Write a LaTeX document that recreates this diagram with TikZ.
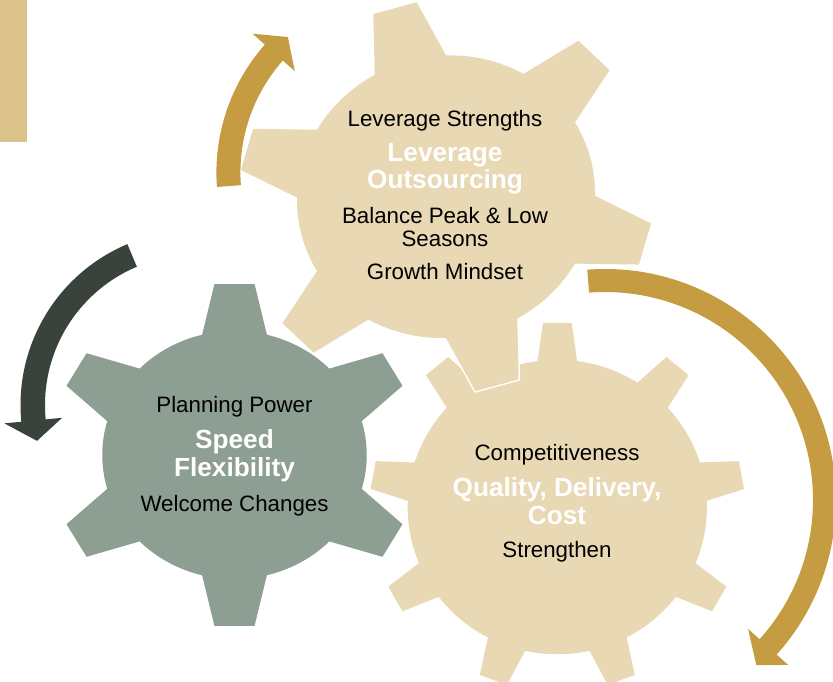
\documentclass[tikz,border=0pt]{standalone}
\usepackage{fontspec}
\setmainfont{Liberation Sans}
\usetikzlibrary{calc}
\definecolor{geartan}{HTML}{E8D8B4}
\definecolor{gearsage}{HTML}{8D9E92}
\definecolor{arrowgold}{HTML}{C59C42}
\definecolor{arrowslate}{HTML}{39433C}
\definecolor{tabtan}{HTML}{DBC28B}
\tikzset{
  gearnote/.style={
    anchor=base,
    inner sep=0pt,
    text=black,
    font=\fontsize{22.3}{24}\selectfont
  },
  gearkey/.style={
    anchor=base,
    inner sep=0pt,
    text=white,
    font=\bfseries\fontsize{26.2}{28}\selectfont
  },
  gearhalo/.style={fill=white, draw=white, line width=3pt}
}
% #1 path options, #2 teeth, #3 first tooth angle, #4 root radius,
% #5 half width of a tooth at its tip, #6 half width at radius 0.6
\newcommand{\gearshape}[6]{%
  \path[#1] (0,0) circle[radius=#4];
  \foreach \k in {1,...,#2}{
    \pgfmathsetmacro{\toothang}{#3+360*(\k-1)/#2}
    \path[#1] ({\toothang-atan(#5)}:{sqrt(1+#5*#5)})
      -- ({\toothang+atan(#5)}:{sqrt(1+#5*#5)})
      -- ({\toothang+atan(#6/0.6)}:{sqrt(0.36+#6*#6)})
      -- ({\toothang-atan(#6/0.6)}:{sqrt(0.36+#6*#6)}) -- cycle;
  }
}

\begin{document}
\begin{tikzpicture}[x=1pt, y=-1pt]
  \useasboundingbox (0,0) rectangle (833,682);
  \fill[tabtan] (0,0) rectangle (27,142);

  \coordinate (topc) at (446,196.7);
  \coordinate (leftc) at (234.5,455);
  \coordinate (rightc) at (557.3,507);

  % gear on the right, under the other two
  \begin{scope}[shift={(rightc)}, x={(187pt,0pt)}, y={(0pt,-184pt)}]
    \gearshape{gearhalo}{9}{270}{0.80}{0.077}{0.133}
    \gearshape{fill=geartan}{9}{270}{0.80}{0.077}{0.133}
  \end{scope}

  % gear on the left
  \begin{scope}[shift={(leftc)}, x={(182.4pt,0pt)}, y={(0pt,-171pt)}]
    \gearshape{gearhalo}{6}{30}{0.725}{0.11}{0.201}
    \gearshape{fill=gearsage}{6}{30}{0.725}{0.11}{0.201}
  \end{scope}

  % gear on top
  \begin{scope}[shift={(topc)}, x={(199pt,-47.3pt)}, y={(-56pt,-190.4pt)}]
    \gearshape{gearhalo}{6}{0}{0.72}{0.108}{0.201}
    \gearshape{fill=geartan}{6}{0}{0.72}{0.108}{0.201}
  \end{scope}

  % turning arrows
  \coordinate (swingA) at (409.4,172.5);
  \coordinate (swingB) at (605,500);
  \coordinate (swingC) at (195,405);
  \fill[arrowgold] ($(swingA)+(175.7:193)$) arc[start angle=175.7, end angle=221.5, radius=193]
    -- ($(swingA)+(221.5:209.5)$) -- ($(swingA)+(228.1:182)$) -- ($(swingA)+(221.5:153)$)
    -- ($(swingA)+(221.5:169)$) arc[start angle=221.5, end angle=175.7, radius=169] -- cycle;
  \fill[arrowgold] ($(swingB)+(-94.4:231)$) arc[start angle=-94.4, end angle=42, radius=231]
    -- ($(swingB)+(42:246.5)$) -- ($(swingB)+(47.5:224)$) -- ($(swingB)+(42:192.5)$)
    -- ($(swingB)+(42:208)$) arc[start angle=42, end angle=-94.4, radius=208] -- cycle;
  \fill[arrowslate] ($(swingC)+(247.2:174.5)$) arc[start angle=247.2, end angle=174.5, radius=174.5]
    -- ($(swingC)+(174.5:191.5)$) -- ($(swingC)+(167.2:162)$) -- ($(swingC)+(174.5:133.5)$)
    -- ($(swingC)+(174.5:150)$) arc[start angle=174.5, end angle=247.2, radius=150] -- cycle;

  % labels
  \node[gearnote] (topnoteA) at (445,126.5) {Leverage Strengths};
  \node[gearkey] (topkeyA) at (445,161) {Leverage};
  \node[gearkey] (topkeyB) at (445,188.5) {Outsourcing};
  \node[gearnote] (topnoteB) at (445,223.5) {Balance Peak \& Low};
  \node[gearnote] (topnoteC) at (445,246.7) {Seasons};
  \node[gearnote] (topnoteD) at (445,279.5) {Growth Mindset};

  \node[gearnote] (leftnoteA) at (234.5,412.7) {Planning Power};
  \node[gearkey] (leftkeyA) at (234.5,448.3) {Speed};
  \node[gearkey] (leftkeyB) at (234.5,476.7) {Flexibility};
  \node[gearnote] (leftnoteB) at (234.5,511.7) {Welcome Changes};

  \node[gearnote] (rightnoteA) at (557,460) {Competitiveness};
  \node[gearkey] (rightkeyA) at (557,496.7) {Quality, Delivery,};
  \node[gearkey] (rightkeyB) at (557,524.3) {Cost};
  \node[gearnote] (rightnoteB) at (557,557.7) {Strengthen};
\end{tikzpicture}
\end{document}
